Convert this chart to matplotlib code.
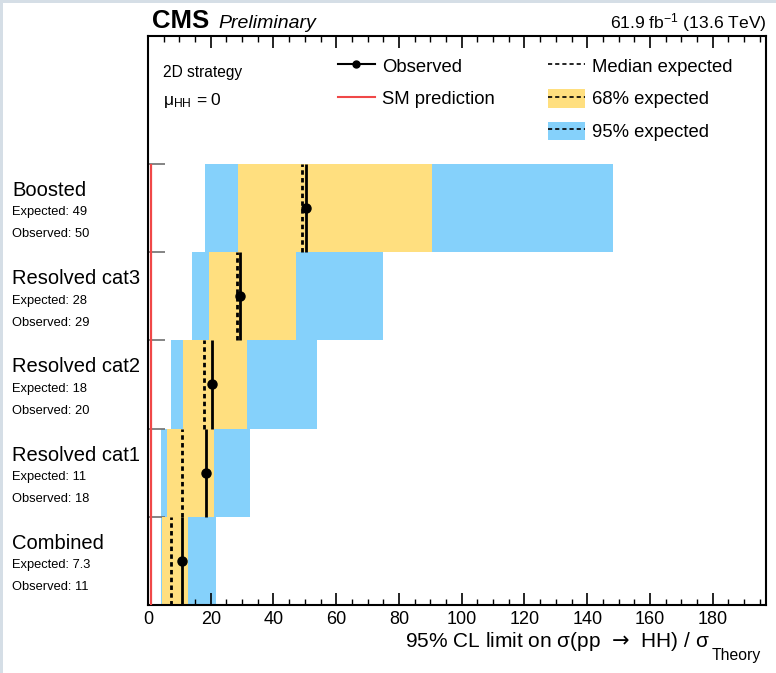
import matplotlib
matplotlib.use("Agg")
import matplotlib.pyplot as plt
import matplotlib.transforms as mtransforms
from matplotlib.lines import Line2D
from matplotlib.patches import Patch, Rectangle
from matplotlib.legend_handler import HandlerTuple
from matplotlib.ticker import MultipleLocator

plt.rcParams['font.family'] = ['Liberation Sans', 'DejaVu Sans']
plt.rcParams['mathtext.fontset'] = 'custom'
plt.rcParams['mathtext.rm'] = 'Liberation Sans'
plt.rcParams['mathtext.it'] = 'Liberation Sans:italic'
plt.rcParams['mathtext.bf'] = 'Liberation Sans:bold'
plt.rcParams['mathtext.sf'] = 'DejaVu Sans'

# categories from bottom to top
categories = ['Combined', 'Resolved cat1', 'Resolved cat2', 'Resolved cat3', 'Boosted']
expected = [7.3, 10.8, 17.8, 28.4, 49.1]
observed = [10.8, 18.4, 20.4, 29.4, 50.4]
lo68 = [4.5, 6.1, 11.0, 19.4, 28.6]
hi68 = [12.9, 21.0, 31.5, 47.2, 90.6]
lo95 = [4.0, 4.0, 7.3, 14.1, 18.3]
hi95 = [21.7, 32.6, 53.8, 74.8, 148.1]
sm_value = 1.0

yellow = '#FFDF7F'
blue = '#85D1FB'

W, H = 776, 673
fig = plt.figure(figsize=(W / 100, H / 100), dpi=100)
ax = fig.add_axes([148 / W, 1 - 605 / H, (766 - 148) / W, (605 - 36) / H])

ypos = list(range(len(categories)))
ax.barh([y + 0.5 for y in ypos], [h - l for l, h in zip(lo95, hi95)], left=lo95,
        height=1.0, color=blue, linewidth=0, zorder=1)
ax.barh([y + 0.5 for y in ypos], [h - l for l, h in zip(lo68, hi68)], left=lo68,
        height=1.0, color=yellow, linewidth=0, zorder=2)
ax.vlines(expected, ypos, [y + 1 for y in ypos], colors='black', linestyles=(0, (1.6, 1.2)),
          linewidth=2.0, zorder=3)
ax.vlines(observed, ypos, [y + 1 for y in ypos], colors='black', linewidth=2.0, zorder=4)
ax.plot(observed, [y + 0.5 for y in ypos], 'o', color='black', markersize=6.5, zorder=5)
ax.vlines(sm_value, 0, len(categories), colors='#F04848', linewidth=1.6, zorder=4)

ax.set_xlim(0, 197)
ax.set_ylim(0, 6.45)
ax.xaxis.set_major_locator(MultipleLocator(20))
ax.xaxis.set_minor_locator(MultipleLocator(5))
ax.set_yticks(range(1, len(categories) + 1))
ax.set_yticklabels([])
ax.tick_params(axis='x', which='both', direction='in', top=True, labelsize=13, pad=4)
ax.tick_params(axis='x', which='major', length=8.5, width=1.2)
ax.tick_params(axis='x', which='minor', length=4, width=1.0)
ax.tick_params(axis='y', which='major', direction='in', length=12.5, width=1.2, color='#707070',
               right=False)
for sp in ax.spines.values():
    sp.set_linewidth(1.5)

# category labels to the left of the frame
trans = mtransforms.blended_transform_factory(fig.transFigure, ax.transData)
for y, name, e, o in zip(ypos, categories, expected, observed):
    ax.text(12 / W, y + 0.5 + 0.2, name, transform=trans, fontsize=14.5, va='center', ha='left')
    ax.text(12 / W, y + 0.5 - 0.05, f"Expected: {e:.2g}", transform=trans, fontsize=9.3,
            va='center', ha='left')
    ax.text(12 / W, y + 0.5 - 0.3, f"Observed: {o:.2g}", transform=trans, fontsize=9.3,
            va='center', ha='left')

# header
fig.text(152 / W, 1 - 28 / H, "CMS", fontsize=18.5, fontweight='bold', va='baseline', ha='left')
fig.text(218 / W, 1 - 28 / H, "Preliminary", fontsize=14, style='italic', va='baseline', ha='left')
fig.text(767 / W, 1 - 28 / H, r"61.9 fb$^{-1}$ (13.6 TeV)", fontsize=12.6, va='baseline', ha='right')

# x axis title, with a deep subscript in the ROOT style
fig.text(710 / W, 1 - 647 / H, r"95% CL limit on σ(pp  $\mathsf{→}$  HH) / σ",
         fontsize=15, va='baseline', ha='right')
fig.text(712 / W, 1 - 660 / H, "Theory", fontsize=11.3, va='baseline', ha='left')

# analysis info
fig.text(163 / W, 1 - 73 / H, "2D strategy", fontsize=11.2, va='center', ha='left')
fig.text(163 / W, 1 - 100 / H, r"$\mathrm{μ}_{\mathrm{HH}}$ = 0", fontsize=12.5, va='center', ha='left')

# legends
dash = (0, (2.5, 1.8))
h_obs = Line2D([], [], color='black', lw=1.5, marker='o', markersize=5)
h_sm = Line2D([], [], color='#F04848', lw=1.5)
h_med = Line2D([], [], color='black', lw=1.2, linestyle=dash)
h_68 = (Patch(facecolor=yellow, edgecolor='none'), Line2D([], [], color='black', lw=1.2, linestyle=dash))
h_95 = (Patch(facecolor=blue, edgecolor='none'), Line2D([], [], color='black', lw=1.2, linestyle=dash))

common = dict(frameon=False, fontsize=13.3, handlelength=2.0, handleheight=1.19, handletextpad=0.38,
              labelspacing=0.71, borderpad=0, borderaxespad=0, loc='upper left',
              bbox_transform=fig.transFigure, numpoints=1,
              handler_map={tuple: HandlerTuple(ndivide=1, pad=0)})
leg1 = ax.legend([h_obs, h_sm], ['Observed', 'SM prediction'],
                 bbox_to_anchor=(338 / W, 1 - 56 / H), **common)
ax.add_artist(leg1)
ax.legend([h_med, h_68, h_95], ['Median expected', '68% expected', '95% expected'],
          bbox_to_anchor=(548 / W, 1 - 56 / H), **common)

# thin light frame at the left and top edge of the canvas
fig.add_artist(Rectangle((0, 0), 3 / W, 1, transform=fig.transFigure, color='#D5DEE6', lw=0))
fig.add_artist(Rectangle((0, 1 - 3 / H), 1, 3 / H, transform=fig.transFigure, color='#D5DEE6', lw=0))

fig.savefig('out.png', dpi=100)
